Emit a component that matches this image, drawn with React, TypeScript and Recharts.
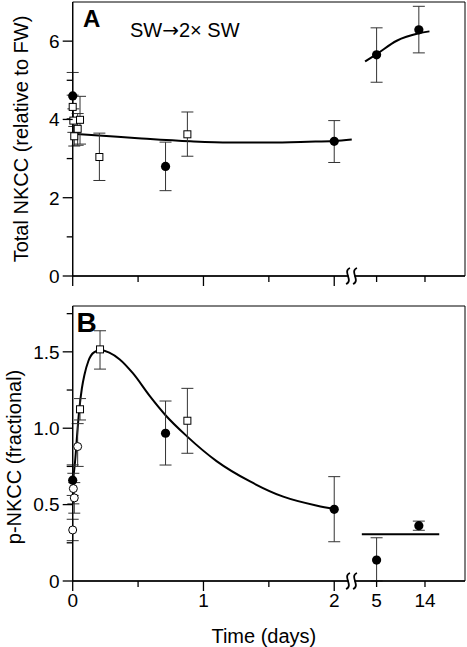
import React from "react";
import {
  ComposedChart,
  XAxis,
  YAxis,
  Scatter,
  Line,
  ErrorBar,
  ReferenceArea,
  ReferenceDot,
} from "recharts";

// Two stacked panels: total NKCC (A) and p-NKCC (B) after SW -> 2x SW transfer.
// The x axis is broken after day 2; days 5 and 14 sit at fixed axis positions.

const FONT = '"Liberation Sans", Arial, Helvetica, sans-serif';

// ── shared x axis ──────────────────────────────────────────────────────────
const xTicks = [0, 0.5, 1, 1.5, 2, 2.324, 2.694];
const xTickLabels = ["0", "", "1", "", "2", "5", "14"];
const xMajor = [0, 1, 2];
const breakAt = 2.132;

// ── panel A: total NKCC (relative to FW) ──────────────────────────────────
const aYTicks = [0, 1, 2, 3, 4, 5, 6];
const aYLabels = ["0", "", "2", "", "4", "", "6"];

const aCircleX = [0, 0.71, 2.0, 2.324, 2.647];
const aCircleY = [4.6, 2.8, 3.44, 5.65, 6.29];
const aCircleLo = [0.6, 0.62, 0.54, 0.7, 0.59];
const aCircleHi = [0.6, 0.62, 0.53, 0.69, 0.6];

const aSquareX = [0, 0.005, 0.012, 0.038, 0.056, 0.204, 0.877];
const aSquareY = [4.32, 3.97, 3.57, 3.76, 3.99, 3.04, 3.62];
const aSquareLo = [0.3, 0.3, 0.25, 0.42, 0.62, 0.6, 0.56];
const aSquareHi = [0.3, 0.3, 0.25, 0.39, 0.6, 0.61, 0.57];

const aFitX = [0.01, 0.2, 0.5, 0.9, 1.2, 1.5, 1.8, 2.0, 2.134];
const aFitY = [3.63, 3.59, 3.52, 3.44, 3.41, 3.41, 3.43, 3.45, 3.49];
const aFit2X = [2.236, 2.325, 2.478, 2.647, 2.728];
const aFit2Y = [5.48, 5.67, 6.01, 6.2, 6.25];

// ── panel B: p-NKCC (fractional) ──────────────────────────────────────────
const bYTicks = [0, 0.25, 0.5, 0.75, 1, 1.25, 1.5, 1.75];
const bYLabels = ["0", "", "0.5", "", "1.0", "", "1.5", ""];

const bCircleX = [0, 0.71, 2.0, 2.324, 2.647];
const bCircleY = [0.66, 0.967, 0.469, 0.137, 0.362];
const bCircleLo = [0.1, 0.208, 0.212, 0.137, 0.03];
const bCircleHi = [0.1, 0.211, 0.214, 0.146, 0.03];

const bSquareX = [0.056, 0.209, 0.877];
const bSquareY = [1.124, 1.516, 1.049];
const bSquareLo = [0.07, 0.129, 0.213];
const bSquareHi = [0.07, 0.122, 0.212];

const bOpenX = [0, 0.005, 0.012, 0.038];
const bOpenY = [0.334, 0.605, 0.544, 0.88];
const bOpenLo = [0.07, 0.1, 0.1, 0.13];
const bOpenHi = [0.07, 0.1, 0.1, 0.15];

const bFitX = [0, 0.02, 0.035, 0.05, 0.07, 0.09, 0.12, 0.16, 0.21, 0.28, 0.36, 0.46, 0.59, 0.71, 0.87, 1.1, 1.36, 1.61, 1.87, 2.0];
const bFitY = [0.64, 0.8, 0.97, 1.12, 1.26, 1.35, 1.44, 1.495, 1.51, 1.495, 1.45, 1.36, 1.21, 1.085, 0.95, 0.785, 0.65, 0.552, 0.493, 0.472];
const bPlateauX = [2.211, 2.803];
const bPlateauY = [0.306, 0.306];

const points = (xs: number[], ys: number[], lo: number[], hi: number[]) =>
  xs.map((x, i) => ({ x, y: ys[i], err: [lo[i], hi[i]] }));
const curve = (xs: number[], ys: number[]) => xs.map((x, i) => ({ x, y: ys[i] }));

const TICK = 10;
const MINOR = 6;
const GAP = 3;

function YTick(props: any) {
  const { x, y, payload, labels, ticks } = props;
  const label = labels[ticks.indexOf(payload.value)] ?? "";
  const edge = x + TICK + GAP;
  return (
    <g>
      <line x1={edge - (label ? TICK : MINOR)} x2={edge} y1={y} y2={y} stroke="#000" strokeWidth={1.3} />
      {label && (
        <text x={x} y={y} dy="0.36em" textAnchor="end" fontSize={19} fontFamily={FONT} fill="#000">
          {label}
        </text>
      )}
    </g>
  );
}

function XTick(props: any) {
  const { x, y, payload, showLabels } = props;
  const i = xTicks.indexOf(payload.value);
  const major = xMajor.includes(payload.value);
  const axisY = y - TICK - GAP;
  return (
    <g>
      <line x1={x} x2={x} y1={axisY} y2={axisY + (major ? TICK : MINOR)} stroke="#000" strokeWidth={1.3} />
      {showLabels && xTickLabels[i] && (
        <text x={x} y={y} dy="0.71em" textAnchor="middle" fontSize={19} fontFamily={FONT} fill="#000">
          {xTickLabels[i]}
        </text>
      )}
    </g>
  );
}

const FilledDot = (p: any) => <circle cx={p.cx} cy={p.cy} r={4.6} fill="#000" />;
const OpenDot = (p: any) => (
  <circle cx={p.cx} cy={p.cy} r={4} fill="#fff" stroke="#000" strokeWidth={1} />
);
const OpenSquare = (p: any) => (
  <rect x={p.cx - 3.5} y={p.cy - 3.5} width={7} height={7} fill="#fff" stroke="#000" strokeWidth={1} />
);

// axis-break squiggle, drawn over the bottom axis
function BreakMark(p: any) {
  const { cx, cy } = p;
  return (
    <g>
      <rect x={cx - 3} y={cy - 2} width={6} height={4} fill="#fff" />
      {[-3.5, 3.5].map((o) => (
        <path
          key={o}
          d={`M ${cx + o - 2} ${cy + 8} C ${cx + o + 6} ${cy + 5}, ${cx + o - 6} ${cy - 5}, ${cx + o + 2} ${cy - 8}`}
          fill="none"
          stroke="#000"
          strokeWidth={1.8}
        />
      ))}
    </g>
  );
}

const yTitle = (text: string, baseX: number, shift: number) => (props: any) => {
  const vb = props.viewBox;
  const cy = vb.y + vb.height / 2 + shift;
  return (
    <text
      x={baseX}
      y={cy}
      transform={`rotate(-90, ${baseX}, ${cy})`}
      textAnchor="middle"
      fontSize={20}
      fontFamily={FONT}
      fill="#000"
    >
      {text}
    </text>
  );
};

const xTitle = (props: any) => {
  const vb = props.viewBox;
  return (
    <text
      x={vb.x + vb.width / 2 - 5}
      y={vb.y + 61.5}
      textAnchor="middle"
      fontSize={20}
      fontFamily={FONT}
      fill="#000"
    >
      Time (days)
    </text>
  );
};

const errStyle = { stroke: "#333", strokeWidth: 1, width: 6 };

export default function App() {
  return (
    <div style={{ position: "absolute", left: 0, top: 0, width: 467, height: 647, background: "#fff" }}>
      {/* Panel A */}
      <div style={{ position: "absolute", left: 0, top: 0 }}>
        <ComposedChart width={467} height={300} margin={{ top: 2, right: 2, bottom: 0, left: 0 }}>
          <XAxis
            type="number"
            dataKey="x"
            domain={[0, 3]}
            ticks={xTicks}
            height={24}
            tickSize={TICK}
            tickMargin={GAP}
            tickLine={false}
            axisLine={{ stroke: "#000", strokeWidth: 1.3 }}
            tick={(p: any) => <XTick {...p} showLabels={false} />}
          />
          <YAxis
            type="number"
            domain={[0, 7]}
            ticks={aYTicks}
            width={72.7}
            tickSize={TICK}
            tickMargin={GAP}
            tickLine={false}
            axisLine={{ stroke: "#000", strokeWidth: 1.3 }}
            tick={(p: any) => <YTick {...p} labels={aYLabels} ticks={aYTicks} />}
            label={{ content: yTitle("Total NKCC (relative to FW)", 27.5, 0) }}
          />
          <ReferenceArea x1={0} x2={3} y1={0} y2={7} fill="none" stroke="#000" strokeWidth={1} ifOverflow="visible" />
          <Line data={curve(aFitX, aFitY)} dataKey="y" type="monotone" stroke="#000" strokeWidth={2} dot={false} isAnimationActive={false} />
          <Line data={curve(aFit2X, aFit2Y)} dataKey="y" type="monotone" stroke="#000" strokeWidth={2} dot={false} isAnimationActive={false} />
          <Scatter data={points(aSquareX, aSquareY, aSquareLo, aSquareHi)} dataKey="y" shape={OpenSquare} isAnimationActive={false}>
            <ErrorBar dataKey="err" direction="y" {...errStyle} />
          </Scatter>
          <Scatter data={points(aCircleX, aCircleY, aCircleLo, aCircleHi)} dataKey="y" shape={FilledDot} isAnimationActive={false}>
            <ErrorBar dataKey="err" direction="y" {...errStyle} />
          </Scatter>
          <ReferenceDot x={breakAt} y={0} shape={BreakMark} ifOverflow="visible" />
        </ComposedChart>
      </div>

      {/* Panel B */}
      <div style={{ position: "absolute", left: 0, top: 300 }}>
        <ComposedChart width={467} height={347} margin={{ top: 6, right: 2, bottom: 0, left: 0 }}>
          <XAxis
            type="number"
            dataKey="x"
            domain={[0, 3]}
            ticks={xTicks}
            height={66}
            tickSize={TICK}
            tickMargin={GAP}
            tickLine={false}
            axisLine={{ stroke: "#000", strokeWidth: 1.3 }}
            tick={(p: any) => <XTick {...p} showLabels />}
            label={{ content: xTitle }}
          />
          <YAxis
            type="number"
            domain={[0, 1.8]}
            ticks={bYTicks}
            width={72.7}
            tickSize={TICK}
            tickMargin={GAP}
            tickLine={false}
            axisLine={{ stroke: "#000", strokeWidth: 1.3 }}
            tick={(p: any) => <YTick {...p} labels={bYLabels} ticks={bYTicks} />}
            label={{ content: yTitle("p-NKCC (fractional)", 20.5, 13.5) }}
          />
          <ReferenceArea x1={0} x2={3} y1={0} y2={1.8} fill="none" stroke="#000" strokeWidth={1} ifOverflow="visible" />
          <Line data={curve(bFitX, bFitY)} dataKey="y" type="monotone" stroke="#000" strokeWidth={2} dot={false} isAnimationActive={false} />
          <Line data={curve(bPlateauX, bPlateauY)} dataKey="y" type="linear" stroke="#000" strokeWidth={2} dot={false} isAnimationActive={false} />
          <Scatter data={points(bOpenX, bOpenY, bOpenLo, bOpenHi)} dataKey="y" shape={OpenDot} isAnimationActive={false}>
            <ErrorBar dataKey="err" direction="y" {...errStyle} />
          </Scatter>
          <Scatter data={points(bSquareX, bSquareY, bSquareLo, bSquareHi)} dataKey="y" shape={OpenSquare} isAnimationActive={false}>
            <ErrorBar dataKey="err" direction="y" {...errStyle} />
          </Scatter>
          <Scatter data={points(bCircleX, bCircleY, bCircleLo, bCircleHi)} dataKey="y" shape={FilledDot} isAnimationActive={false}>
            <ErrorBar dataKey="err" direction="y" {...errStyle} />
          </Scatter>
          <ReferenceDot x={breakAt} y={0} shape={BreakMark} ifOverflow="visible" />
        </ComposedChart>
      </div>

      {/* panel letters and condition label */}
      <svg width={467} height={647} style={{ position: "absolute", left: 0, top: 0, pointerEvents: "none" }}>
        <text x={83} y={26.7} fontSize={24} fontWeight="bold" fontFamily={FONT} fill="#000">
          A
        </text>
        <text x={130} y={37.3} fontSize={20} fontFamily={FONT} fill="#000">
          SW<tspan fontFamily='"DejaVu Sans", sans-serif'>→</tspan>2× SW
        </text>
        <text x={76.5} y={331.5} fontSize={28} fontWeight="bold" fontFamily={FONT} fill="#000">
          B
        </text>
      </svg>
    </div>
  );
}
